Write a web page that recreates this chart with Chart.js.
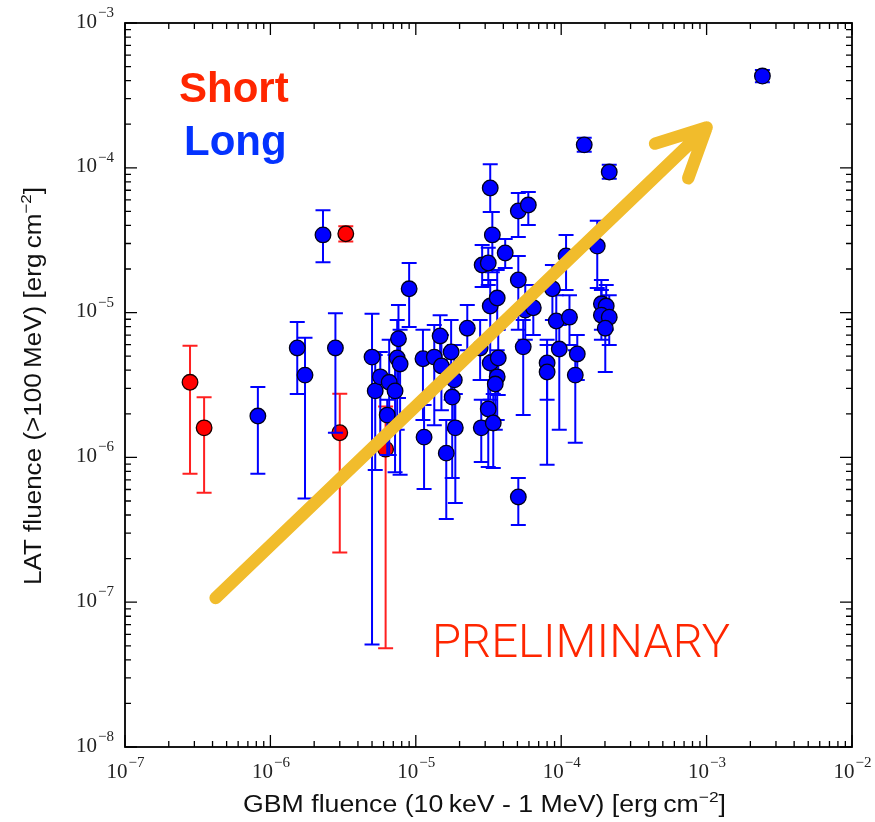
<!DOCTYPE html>
<html>
<head>
<meta charset="utf-8">
<script src="https://cdn.jsdelivr.net/npm/chart.js@4"></script>
<style>
  body { margin: 0; background: #fff; }
</style>
</head>
<body>
<canvas id="fluence" width="875" height="822"></canvas>
<script>
// decade exponents used for the log axes
const xDecades = [-7, -6, -5, -4, -3, -2];
const yDecades = [-8, -7, -6, -5, -4, -3];

// short GRBs: GBM fluence, LAT fluence and its error range
const shortGbm   = [2.8e-7, 3.5e-7, 3.0e-6, 3.3e-6, 6.2e-6];
const shortLat   = [3.3e-6, 1.6e-6, 1.48e-6, 3.5e-5, 1.14e-6];
const shortLatLo = [7.7e-7, 5.7e-7, 2.2e-7, 3.1e-5, 4.8e-8];
const shortLatHi = [5.9e-6, 2.6e-6, 2.75e-6, 3.95e-5, 2.25e-6];

// long GRBs
const longGbm = [
  8.2e-7, 1.53e-6, 1.73e-6, 2.3e-6, 2.8e-6, 5.0e-6, 5.26e-6, 5.7e-6, 6.56e-6, 7.2e-6,
  6.36e-6, 7.6e-6, 7.45e-6, 7.8e-6, 9.0e-6, 1.12e-5, 1.14e-5, 1.34e-5, 1.47e-5, 1.5e-5,
  1.62e-5, 1.75e-5, 1.78e-5, 1.84e-5, 1.87e-5, 2.26e-5, 2.77e-5, 2.82e-5, 2.86e-5, 3.15e-5,
  3.15e-5, 3.25e-5, 3.36e-5, 3.25e-5, 3.63e-5, 3.25e-5, 3.69e-5, 3.63e-5, 3.52e-5, 3.41e-5,
  4.12e-5, 5.07e-5, 5.94e-5, 5.07e-5, 5.07e-5, 5.48e-5, 5.66e-5, 6.43e-5, 8.0e-5, 8.0e-5,
  8.7e-5, 9.25e-5, 9.7e-5, 1.08e-4, 1.14e-4, 1.25e-4, 1.29e-4, 1.44e-4, 1.77e-4, 1.89e-4,
  2.04e-4, 1.89e-4, 2.14e-4, 2.01e-4, 2.14e-4, 2.42e-3
];
const longLat = [
  1.93e-6, 5.7e-6, 3.7e-6, 3.44e-5, 5.7e-6, 4.93e-6, 2.88e-6, 3.6e-6, 3.3e-6, 2.88e-6,
  1.96e-6, 6.6e-6, 4.86e-6, 4.42e-6, 1.46e-5, 4.8e-6, 1.38e-6, 4.93e-6, 6.9e-6, 4.28e-6,
  1.07e-6, 5.35e-6, 2.61e-6, 3.43e-6, 1.6e-6, 7.8e-6, 5.7e-6, 1.6e-6, 2.13e-5, 2.2e-5,
  2.16e-6, 7.25e-5, 3.44e-5, 1.11e-5, 1.26e-5, 4.49e-6, 4.86e-6, 3.6e-6, 3.21e-6, 1.73e-6,
  2.58e-5, 5.03e-5, 5.53e-5, 1.68e-5, 5.33e-7, 5.8e-6, 1.04e-5, 1.08e-5, 4.49e-6, 3.89e-6,
  1.46e-5, 8.75e-6, 5.6e-6, 2.46e-5, 9.3e-6, 3.7e-6, 5.18e-6, 1.44e-4, 2.88e-5, 1.15e-5,
  1.11e-5, 9.6e-6, 9.3e-6, 7.8e-6, 9.35e-5, 4.3e-4
];
const longLatLo = [
  7.7e-7, 2.74e-6, 5.2e-7, 2.23e-5, 1.48e-6, 5.1e-8, 8.2e-7, 1.32e-6, 1.04e-6, 7.9e-7,
  1.04e-6, 2.57e-6, 1.55e-6, 7.6e-7, 7.96e-6, 1.81e-6, 6.05e-7, 1.67e-6, 4.7e-6, 2.12e-6,
  3.76e-7, 2.5e-6, 7.2e-7, 1.55e-6, 4.84e-7, 5.5e-6, 3.43e-6, 9.3e-7, 1.5e-5, 1.55e-5,
  8.6e-7, 4.95e-5, 1.9e-5, 7.0e-6, 7.6e-6, 2.5e-6, 2.7e-6, 1.81e-6, 1.55e-6, 8.45e-7,
  2.03e-5, 3.33e-5, 4.03e-5, 7.6e-6, 3.41e-7, 1.96e-6, 6.5e-6, 7.0e-6, 2.5e-6, 8.9e-7,
  8.9e-6, 5.97e-6, 1.55e-6, 1.43e-5, 5.97e-6, 1.26e-6, 3.43e-6, 1.29e-4, 1.48e-5, 7.6e-6,
  7.6e-6, 6.5e-6, 5.97e-6, 3.89e-6, 8.4e-5, 3.9e-4
];
const longLatHi = [
  3.06e-6, 8.6e-6, 6.7e-6, 5.1e-5, 9.9e-6, 9.8e-6, 5.1e-6, 5.35e-6, 6.5e-6, 5.1e-6,
  2.5e-6, 1.13e-5, 8.9e-6, 7.6e-6, 2.2e-5, 7.6e-6, 2.3e-6, 8.2e-6, 9.6e-6, 7.0e-6,
  1.81e-6, 8.9e-6, 4.35e-6, 5.97e-6, 2.74e-6, 1.13e-5, 8.9e-6, 2.5e-6, 2.93e-5, 2.8e-5,
  3.43e-6, 1.06e-4, 4.95e-5, 1.68e-5, 1.97e-5, 7.0e-6, 7.6e-6, 5.5e-6, 5.1e-6, 2.74e-6,
  3.22e-5, 6.7e-5, 6.8e-5, 2.46e-5, 7.2e-7, 8.9e-6, 1.55e-5, 1.55e-5, 6.5e-6, 5.97e-6,
  2.13e-5, 1.32e-5, 8.2e-6, 3.44e-5, 1.32e-5, 5.5e-6, 7.0e-6, 1.61e-4, 4.3e-5, 1.68e-5,
  1.55e-5, 1.43e-5, 1.32e-5, 1.13e-5, 1.05e-4, 4.73e-4
];

// trend arrow, in data coordinates
const arrowFrom = { x: 4.2e-7, y: 1.07e-7 };
const arrowTo   = { x: 1.0e-3, y: 1.9e-4 };

const toPoints = (xs, ys) => xs.map((x, i) => ({ x: x, y: ys[i] }));

// vertical error bars with caps, drawn just before each dataset's markers
const errorBars = {
  id: 'errorBars',
  beforeDatasetDraw(chart, args) {
    const ds = chart.data.datasets[args.index];
    const y = chart.scales.y;
    const ctx = chart.ctx;
    ctx.save();
    ctx.strokeStyle = ds.errColor;
    ctx.lineWidth = 2;
    args.meta.data.forEach((pt, i) => {
      const yLo = y.getPixelForValue(ds.lo[i]);
      const yHi = y.getPixelForValue(ds.hi[i]);
      ctx.beginPath();
      ctx.moveTo(pt.x, yLo); ctx.lineTo(pt.x, yHi);
      ctx.moveTo(pt.x - 7.5, yLo); ctx.lineTo(pt.x + 7.5, yLo);
      ctx.moveTo(pt.x - 7.5, yHi); ctx.lineTo(pt.x + 7.5, yHi);
      ctx.stroke();
    });
    ctx.restore();
  }
};

// writes base text plus superscript pieces, scaled to a given width
function richText(ctx, parts, size, supSize, width) {
  ctx.save();
  let total = 0;
  parts.forEach(p => {
    ctx.font = (p.sup ? supSize : size) + 'px "Liberation Sans", Arial, sans-serif';
    p.w = ctx.measureText(p.t).width;
    total += p.w;
  });
  const k = width / total;
  ctx.scale(k, 1);
  let x = -total / 2;
  parts.forEach(p => {
    ctx.font = (p.sup ? supSize : size) + 'px "Liberation Sans", Arial, sans-serif';
    ctx.fillText(p.t, x, p.sup ? -size * 0.42 : 0);
    x += p.w;
  });
  ctx.restore();
}

// "10" with a raised exponent
function powLabel(ctx, exp, x, y, align) {
  const base = '10', sup = '\u2212' + Math.abs(exp);
  ctx.font = '21px "Liberation Serif", serif';
  const wb = ctx.measureText(base).width;
  ctx.font = '15px "Liberation Serif", serif';
  const ws = ctx.measureText(sup).width;
  const start = align === 'center' ? x - (wb + ws) / 2 : x - (wb + ws);
  ctx.textBaseline = 'middle';
  ctx.textAlign = 'left';
  ctx.font = '21px "Liberation Serif", serif';
  ctx.fillText(base, start, y);
  ctx.font = '15px "Liberation Serif", serif';
  ctx.fillText(sup, start + wb + 1, y - 9);
}

// frame, inward major/minor ticks, tick labels and axis titles
const logFrame = {
  id: 'logFrame',
  afterDraw(chart) {
    const ctx = chart.ctx;
    const a = chart.chartArea;
    const sx = chart.scales.x, sy = chart.scales.y;
    ctx.save();
    ctx.strokeStyle = '#000';
    ctx.fillStyle = '#000';
    ctx.lineWidth = 1.3;
    ctx.beginPath();
    xDecades.forEach((e, i) => {
      for (let m = 1; m <= 9; m++) {
        if (m > 1 && i === xDecades.length - 1) break;
        const px = sx.getPixelForValue(m * Math.pow(10, e));
        const len = m === 1 ? 12 : 6;
        ctx.moveTo(px, a.bottom); ctx.lineTo(px, a.bottom - len);
        ctx.moveTo(px, a.top); ctx.lineTo(px, a.top + len);
      }
    });
    yDecades.forEach((e, i) => {
      for (let m = 1; m <= 9; m++) {
        if (m > 1 && i === yDecades.length - 1) break;
        const py = sy.getPixelForValue(m * Math.pow(10, e));
        const len = m === 1 ? 12 : 6;
        ctx.moveTo(a.left, py); ctx.lineTo(a.left + len, py);
        ctx.moveTo(a.right, py); ctx.lineTo(a.right - len, py);
      }
    });
    ctx.stroke();
    ctx.lineWidth = 1.8;
    ctx.strokeRect(a.left, a.top, a.right - a.left, a.bottom - a.top);

    ctx.fillStyle = '#222';
    xDecades.forEach(e => powLabel(ctx, e, sx.getPixelForValue(Math.pow(10, e)), a.bottom + 25, 'center'));
    yDecades.forEach(e => powLabel(ctx, e, a.left - 12, sy.getPixelForValue(Math.pow(10, e)) - 1, 'right'));

    ctx.fillStyle = '#111';
    ctx.textBaseline = 'alphabetic';
    ctx.save();
    ctx.translate((a.left + a.right) / 2 - 4, 812);
    richText(ctx, [{ t: 'GBM fluence (10\u2009keV - 1 MeV) [erg\u2009cm' }, { t: '\u22122', sup: true }, { t: ']' }], 23, 15, 483);
    ctx.restore();
    ctx.save();
    ctx.translate(41, 386);
    ctx.rotate(-Math.PI / 2);
    richText(ctx, [{ t: 'LAT fluence (>100\u2009MeV) [erg\u2009cm' }, { t: '\u22122', sup: true }, { t: ']' }], 23, 15, 398);
    ctx.restore();
    ctx.restore();
  }
};

// trend arrow and the text labels on the plot
const overlay = {
  id: 'overlay',
  afterDatasetsDraw(chart) {
    const ctx = chart.ctx;
    const sx = chart.scales.x, sy = chart.scales.y;
    const x0 = sx.getPixelForValue(arrowFrom.x), y0 = sy.getPixelForValue(arrowFrom.y);
    const x1 = sx.getPixelForValue(arrowTo.x), y1 = sy.getPixelForValue(arrowTo.y);
    const ang = Math.atan2(y1 - y0, x1 - x0);
    const head = 54, spread = 0.46;
    ctx.save();
    ctx.strokeStyle = '#f1bc2c';
    ctx.lineWidth = 12.5;
    ctx.lineCap = 'round';
    ctx.lineJoin = 'round';
    ctx.beginPath();
    ctx.moveTo(x0, y0);
    ctx.lineTo(x1, y1);
    ctx.moveTo(x1 + head * Math.cos(ang + Math.PI - spread), y1 + head * Math.sin(ang + Math.PI - spread));
    ctx.lineTo(x1, y1);
    ctx.lineTo(x1 + head * Math.cos(ang + Math.PI + spread), y1 + head * Math.sin(ang + Math.PI + spread));
    ctx.stroke();

    ctx.textAlign = 'left';
    ctx.textBaseline = 'alphabetic';
    ctx.font = 'bold 42px "Liberation Sans", Arial, sans-serif';
    ctx.fillStyle = '#ff2600';
    ctx.fillText('Short', 179, 102);
    ctx.fillStyle = '#0433ff';
    ctx.fillText('Long', 184, 155);

    // light lettering stretched to its full width
    ctx.font = '300 47px Roboto, "Liberation Sans", sans-serif';
    ctx.fillStyle = '#ff2600';
    const w = ctx.measureText('PRELIMINARY').width;
    ctx.translate(432, 657);
    ctx.scale(298 / w, 1);
    ctx.fillText('PRELIMINARY', 0, 0);
    ctx.restore();
  }
};

new Chart(document.getElementById('fluence'), {
  type: 'scatter',
  data: {
    datasets: [
      {
        label: 'Short',
        data: toPoints(shortGbm, shortLat),
        lo: shortLatLo,
        hi: shortLatHi,
        errColor: '#ff2020',
        backgroundColor: '#ff0000',
        borderColor: '#1a0000',
        borderWidth: 1.3,
        pointRadius: 7.8,
        order: 2
      },
      {
        label: 'Long',
        data: toPoints(longGbm, longLat),
        lo: longLatLo,
        hi: longLatHi,
        errColor: '#0000ff',
        backgroundColor: '#0000ff',
        borderColor: '#00001a',
        borderWidth: 1.3,
        pointRadius: 7.8,
        order: 1
      }
    ]
  },
  options: {
    responsive: false,
    animation: false,
    devicePixelRatio: 1,
    layout: { padding: { left: 125, top: 23, right: 23, bottom: 75 } },
    plugins: { legend: { display: false }, tooltip: { enabled: false } },
    scales: {
      x: { type: 'logarithmic', min: 1e-7, max: 1e-2, display: false },
      y: { type: 'logarithmic', min: 1e-8, max: 1e-3, display: false }
    }
  },
  plugins: [errorBars, logFrame, overlay]
});
</script>
</body>
</html>
